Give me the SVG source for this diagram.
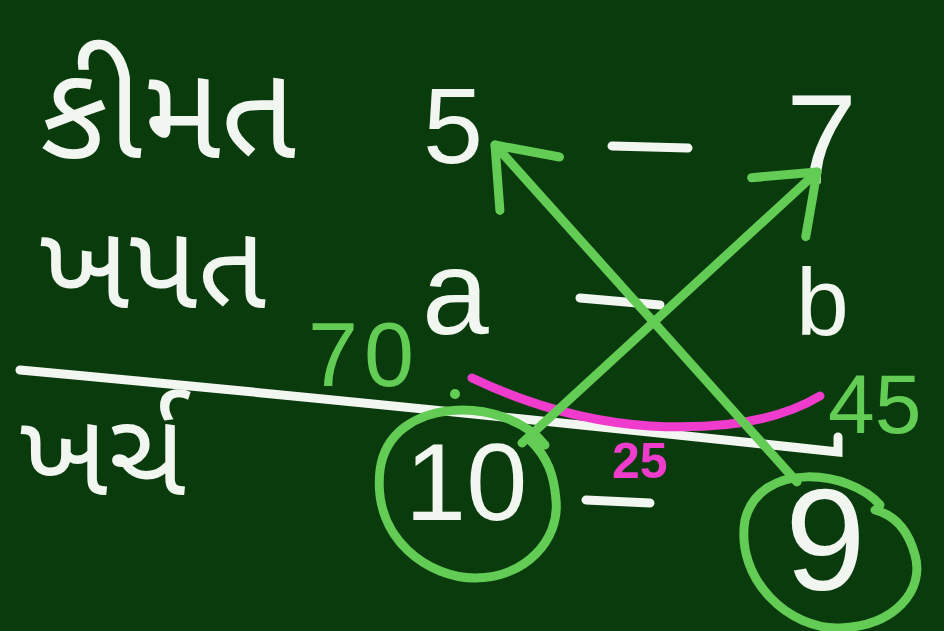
<svg xmlns="http://www.w3.org/2000/svg" width="944" height="631" viewBox="0 0 944 631">
<style>
.w{fill:#f2f6f0;font-family:"Noto Sans Gujarati","Noto Sans","Liberation Sans",sans-serif}
.n{fill:#f2f6f0;font-family:"Liberation Sans",sans-serif}
.g{fill:#62cc55;font-family:"Liberation Sans",sans-serif}
.p{fill:#f03ccc;font-family:"Liberation Sans",sans-serif;font-weight:bold}
.ws{stroke:#f2f6f0;stroke-width:9;stroke-linecap:round;fill:none}
.gs{stroke:#62cc55;stroke-width:9;stroke-linecap:round;stroke-linejoin:round;fill:none}
.ps{stroke:#f03ccc;stroke-width:9;stroke-linecap:round;fill:none}
</style>
<defs>
<marker id="ah" viewBox="-70 -45 80 90" markerWidth="80" markerHeight="90" markerUnits="userSpaceOnUse" refX="0" refY="0" orient="auto">
<path d="M-52,-40 L0,0 L-52,40" fill="none" stroke="#62cc55" stroke-width="9" stroke-linecap="round" stroke-linejoin="round"/>
</marker>
</defs>
<rect width="944" height="631" fill="#093b0d"/>
<g id="label-kimat"><text class="w" x="40" y="158" font-size="132">કીમત</text></g>
<g id="label-khapat"><text class="w" x="40" y="308" font-size="120">ખપત</text></g>
<g id="label-kharch"><text class="w" x="20" y="495" font-size="118">ખર્ચ</text></g>
<g id="divider"><path class="ws" d="M20,370 Q400,405 838,452 L838,437"/></g>
<g id="row-price">
<text class="n" x="423" y="163" font-size="108">5</text>
<line class="ws" x1="612" y1="146" x2="688" y2="148"/>
<text class="n" x="786" y="184" font-size="128">7</text>
</g>
<g id="row-consumption">
<text class="n" x="422" y="334" font-size="120">a</text>
<line class="ws" x1="580" y1="298" x2="660" y2="305"/>
<text class="n" x="796" y="335" font-size="95">b</text>
</g>
<g id="row-expense">
<text class="n" x="405" y="520" font-size="110">10</text>
<line class="ws" x1="586" y1="500" x2="650" y2="503"/>
<text class="n" x="785" y="590" font-size="145">9</text>
</g>
<g id="annotations">
<text class="g" x="308" y="386" font-size="90" letter-spacing="6">70</text>
<circle cx="455" cy="394" r="5" fill="#62cc55"/>
<text class="g" x="828" y="433" font-size="84">45</text>
<text class="p" x="612" y="478" font-size="50">25</text>
<path class="ps" d="M472,378 Q560,420 650,426 Q760,432 820,396"/>
</g>
<g id="circles">
<path class="gs" d="M545,445 C505,395 390,395 380,470 C372,540 430,578 475,578 C525,578 560,540 556,500 C554,475 548,458 530,440"/>
<path class="gs" d="M880,505 C850,470 760,460 745,520 C735,580 790,630 840,628 C895,626 925,590 915,555 C908,530 895,515 875,510"/>
</g>
<g id="connectors">
<path class="gs" d="M522,443 L817,172" marker-end="url(#ah)"/>
<path class="gs" d="M797,482 L495,145" marker-end="url(#ah)"/>
</g>
</svg>
